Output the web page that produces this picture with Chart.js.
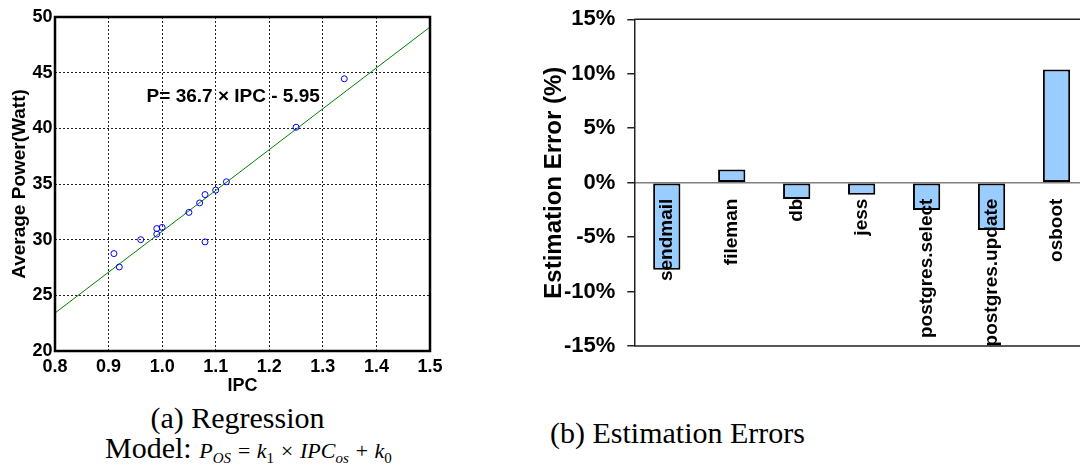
<!DOCTYPE html>
<html>
<head>
<meta charset="utf-8">
<title>OS power model</title>
<script src="https://cdn.jsdelivr.net/npm/chart.js@4.4.1/dist/chart.umd.min.js"></script>
<style>
    html, body { margin: 0; padding: 0; background: #fff; }
    body { width: 1080px; height: 474px; overflow: hidden; position: relative; }
    canvas { position: absolute; top: 0; }
    #regChart { left: 0; }
    #errChart { left: 500px; }
    .caption { position: absolute; font-family: "Liberation Serif", "Times New Roman", serif; font-size: 30px; line-height: 30px; color: #000; white-space: nowrap; }
    .formula { font-style: italic; font-size: 22px; }
    .formula .sub { font-size: 15px; position: relative; top: 5px; }
    .formula .num { font-style: normal; }
</style>
</head>
<body>
<canvas id="regChart" width="460" height="400"></canvas>
<canvas id="errChart" width="620" height="400"></canvas>

<div class="caption" style="left:0; width:475px; text-align:center; top:403px;">(a) Regression</div>
<div class="caption" style="left:105px; top:433px;">Model: <span class="formula">P<span class="sub">OS</span> = k<span class="sub num">1</span> &times; IPC<span class="sub">os</span> + k<span class="sub num">0</span></span></div>
<div class="caption" style="left:550px; top:418px;">(b) Estimation Errors</div>

<script>
// measured samples: IPC vs average power
const ipcValues = [0.91, 0.92, 0.96, 0.99, 0.99, 1.00, 1.05, 1.07, 1.08, 1.08, 1.10, 1.12, 1.25, 1.34];
const powerValues = [28.75, 27.55, 30.0, 31.0, 30.5, 31.1, 32.45, 33.3, 34.05, 29.8, 34.45, 35.2, 40.1, 44.45];

// fitted model P = k1 * IPC + k0
const slopeK1 = 36.7;
const interceptK0 = -5.95;
const ipcRange = [0.8, 1.5];
const powerRange = [20, 50];
const fitLabel = 'P= 36.7 \u00d7 IPC - 5.95';
const fitLabelAt = { ipc: 0.971, watt: 42.4 };

// per-benchmark estimation error (%)
const benchmarks = ['sendmail', 'fileman', 'db', 'jess', 'postgres.select', 'postgres.update', 'osboot'];
const errorPct = [-8.0, 1.2, -1.5, -1.1, -2.5, -4.35, 10.4];
const errorRange = [-15, 15];

const SANS = '"Liberation Sans", Arial, sans-serif';

document.addEventListener('DOMContentLoaded', () => {
    const scatterPoints = ipcValues.map((v, i) => ({ x: v, y: powerValues[i] }));
    const fitLine = ipcRange.map(v => ({ x: v, y: slopeK1 * v + interceptK0 }));

    // --- box frame + equation text for the regression plot ---
    const regDecor = {
        id: 'regDecor',
        afterDatasetsDraw(chart) {
            const { ctx, chartArea: a, scales } = chart;
            ctx.save();
            ctx.font = 'bold 19px ' + SANS;
            ctx.fillStyle = '#000';
            ctx.textAlign = 'left';
            ctx.textBaseline = 'alphabetic';
            ctx.fillText(fitLabel, scales.x.getPixelForValue(fitLabelAt.ipc), scales.y.getPixelForValue(fitLabelAt.watt));
            ctx.strokeStyle = '#000';
            ctx.lineWidth = 2.5;
            ctx.strokeRect(a.left, a.top, a.right - a.left, a.bottom - a.top);
            ctx.restore();
        }
    };

    new Chart(document.getElementById('regChart'), {
        type: 'scatter',
        data: {
            datasets: [{
                data: scatterPoints,
                pointStyle: 'circle',
                pointRadius: 3,
                pointBorderWidth: 1,
                borderColor: '#0000ff',
                backgroundColor: 'rgba(0,0,0,0)',
                order: 1
            }, {
                data: fitLine,
                showLine: true,
                pointRadius: 0,
                borderColor: '#008000',
                borderWidth: 1,
                order: 2
            }]
        },
        options: {
            responsive: false,
            animation: false,
            devicePixelRatio: 1,
            layout: { padding: { top: 17, right: 30, left: 0, bottom: 0 } },
            plugins: { legend: { display: false }, tooltip: { enabled: false } },
            scales: {
                x: {
                    type: 'linear',
                    min: ipcRange[0], max: ipcRange[1],
                    afterFit: s => { s.height = 49; },
                    border: { display: false, dash: [2, 2] },
                    grid: { color: '#222', lineWidth: 1, drawTicks: false },
                    ticks: {
                        stepSize: 0.1, padding: 5,
                        color: '#000', font: { family: SANS, size: 18, weight: 'bold' },
                        callback: v => Number(v).toFixed(1)
                    },
                    title: {
                        display: true, text: 'IPC', color: '#000',
                        font: { family: SANS, size: 18, weight: 'bold', lineHeight: 1.2 },
                        padding: { top: 0, bottom: 3 }
                    }
                },
                y: {
                    min: powerRange[0], max: powerRange[1],
                    afterFit: s => { s.width = 55; },
                    border: { display: false, dash: [2, 2] },
                    grid: { color: '#222', lineWidth: 1, drawTicks: false },
                    ticks: {
                        stepSize: 5, padding: 2.5,
                        color: '#000', font: { family: SANS, size: 18, weight: 'bold' }
                    },
                    title: {
                        display: true, text: 'Average Power(Watt)', color: '#000',
                        font: { family: SANS, size: 19, weight: 'bold', lineHeight: 1.2 },
                        padding: { top: 8, bottom: 0 }
                    }
                }
            }
        },
        plugins: [regDecor]
    });

    // --- top / bottom rules of the error plot frame ---
    const errFrame = {
        id: 'errFrame',
        afterDatasetsDraw(chart) {
            const { ctx, chartArea: a } = chart;
            ctx.save();
            ctx.strokeStyle = '#222';
            ctx.lineWidth = 1.5;
            ctx.beginPath();
            ctx.moveTo(a.left, a.top); ctx.lineTo(a.right, a.top);
            ctx.moveTo(a.left, a.bottom); ctx.lineTo(a.right, a.bottom);
            ctx.stroke();
            ctx.restore();
        }
    };

    new Chart(document.getElementById('errChart'), {
        type: 'bar',
        data: {
            labels: benchmarks,
            datasets: [{
                data: errorPct,
                backgroundColor: '#99ccff',
                borderColor: '#000',
                borderWidth: 2,
                borderSkipped: false,
                barPercentage: 0.42,
                categoryPercentage: 1
            }]
        },
        options: {
            responsive: false,
            animation: false,
            devicePixelRatio: 1,
            layout: { padding: { top: 19.3, right: 31, left: 0, bottom: 54 } },
            plugins: { legend: { display: false }, tooltip: { enabled: false } },
            scales: {
                x: {
                    position: { y: 0 },
                    border: { color: '#808080', width: 1.5 },
                    grid: { display: false, drawTicks: false },
                    ticks: {
                        z: 1, // names sit on top of the bars
                        autoSkip: false, minRotation: 90, maxRotation: 90, padding: 16,
                        color: '#000', font: { family: SANS, size: 19, weight: 'bold' }
                    }
                },
                y: {
                    min: errorRange[0], max: errorRange[1],
                    afterFit: s => {
                        s.width = 134.3;
                        // keep the label padding from pushing the plot area down
                        s.paddingTop = 13;
                        s.paddingBottom = 13;
                    },
                    border: { color: '#222', width: 1.5 },
                    grid: { drawOnChartArea: false, drawTicks: true, tickLength: 7, color: '#222', lineWidth: 1.5 },
                    ticks: {
                        stepSize: 5, padding: 12,
                        color: '#000', font: { family: SANS, size: 22, weight: 'bold' },
                        callback: v => v + '%'
                    },
                    title: {
                        display: true, text: 'Estimation Error (%)', color: '#000',
                        font: { family: SANS, size: 24, weight: 'bold', lineHeight: 1.2 },
                        padding: { top: 40, bottom: 0 }
                    }
                }
            }
        },
        plugins: [errFrame]
    });
});
</script>
</body>
</html>
